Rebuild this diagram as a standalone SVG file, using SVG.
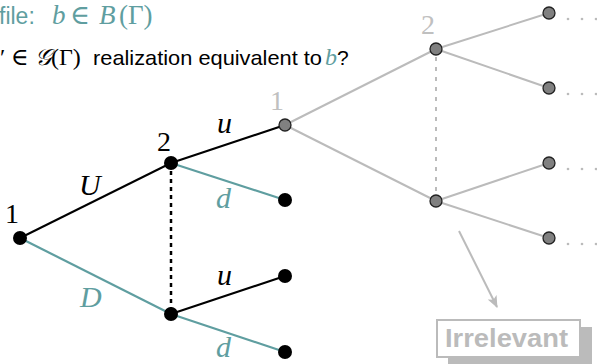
<svg xmlns="http://www.w3.org/2000/svg" width="597" height="364" viewBox="0 0 597 364">
<defs>
<marker id="ah" viewBox="0 0 12 10" refX="11" refY="5" markerWidth="12" markerHeight="10" markerUnits="userSpaceOnUse" orient="auto">
<path d="M0,0 L12,5 L0,10 L3,5 Z" fill="#bbbbbb"/>
</marker>
</defs>
<style>
.sans{font-family:"Liberation Sans","DejaVu Sans",sans-serif}
.ser{font-family:"Liberation Serif","DejaVu Serif",serif}
.it{font-family:"Liberation Serif","DejaVu Serif",serif;font-style:italic}
.teal{fill:#5f9ea0}
.blk{stroke:#000;stroke-width:2;fill:none}
.tl{stroke:#5f9ea0;stroke-width:2.2;fill:none}
.gl{stroke:#bbbbbb;stroke-width:2;fill:none}
.bn{fill:#000}
.gn{fill:#808080;stroke:#222;stroke-width:1.3}
.gd{fill:#bbbbbb}
.lab{font-family:"Liberation Serif","DejaVu Serif",serif;font-size:28px}
.ml{font-family:"Liberation Serif","DejaVu Serif",serif;font-style:italic;font-size:30px}
</style>
<g id="title">
<text x="-1" y="24" class="sans teal" font-size="23">file:</text>
<text x="52" y="24" class="it teal" font-size="27">b</text>
<text x="70" y="24" class="ser teal" font-size="27">∈</text>
<text x="99" y="24" class="it teal" font-size="27">B</text>
<text x="119" y="24" class="ser teal" font-size="27">(Γ)</text>
</g>
<g id="question">
<text x="0" y="65" class="ser" font-size="24">′</text>
<text x="11" y="65" class="ser" font-size="24">∈</text>
<text x="35" y="65" class="it" font-size="23">𝒢</text>
<text x="51" y="65" class="ser" font-size="24">(Γ)</text>
<text x="93" y="65" class="sans" font-size="21" textLength="229" lengthAdjust="spacingAndGlyphs">realization equivalent to</text>
<text x="325" y="65" class="it teal" font-size="24">b</text>
<text x="337" y="65" class="sans" font-size="21">?</text>
</g>
<g id="connectors">
<line class="gl" x1="285" y1="125" x2="436" y2="49"/>
<line class="gl" x1="285" y1="125" x2="436" y2="201"/>
<line class="gl" x1="436" y1="49" x2="549" y2="13"/>
<line class="gl" x1="436" y1="49" x2="549" y2="88"/>
<line class="gl" x1="436" y1="201" x2="549" y2="163"/>
<line class="gl" x1="436" y1="201" x2="549" y2="238"/>
<line class="gl" x1="436" y1="57" x2="436" y2="194" stroke-dasharray="4,6"/>
<line class="blk" x1="20" y1="238" x2="171" y2="163"/>
<line class="blk" x1="171" y1="163" x2="285" y2="125"/>
<line class="blk" x1="171" y1="314" x2="285" y2="276"/>
<line class="tl" x1="20" y1="238" x2="171" y2="314"/>
<line class="tl" x1="171" y1="163" x2="285" y2="200"/>
<line class="tl" x1="171" y1="314" x2="285" y2="352"/>
<line x1="171" y1="171" x2="171" y2="308" stroke="#000" stroke-width="2.5" stroke-dasharray="4,4"/>
<line class="gl" x1="459" y1="231" x2="497" y2="307" marker-end="url(#ah)"/>
</g>
<g id="dots">
<circle class="gd" cx="568" cy="19" r="1.3"/><circle class="gd" cx="582" cy="19" r="1.3"/><circle class="gd" cx="596" cy="19" r="1.3"/>
<circle class="gd" cx="568" cy="94" r="1.3"/><circle class="gd" cx="582" cy="94" r="1.3"/><circle class="gd" cx="596" cy="94" r="1.3"/>
<circle class="gd" cx="568" cy="169" r="1.3"/><circle class="gd" cx="582" cy="169" r="1.3"/><circle class="gd" cx="596" cy="169" r="1.3"/>
<circle class="gd" cx="568" cy="244" r="1.3"/><circle class="gd" cx="582" cy="244" r="1.3"/><circle class="gd" cx="596" cy="244" r="1.3"/>
</g>
<g id="n1"><circle class="bn" cx="20" cy="238" r="7"/><text x="5" y="223" class="lab">1</text></g>
<g id="n2a"><circle class="bn" cx="171" cy="163" r="7"/><text x="157" y="151" class="lab">2</text></g>
<g id="n2b"><circle class="bn" cx="171" cy="314" r="7"/></g>
<g id="leaf1"><circle class="bn" cx="285" cy="200" r="7"/></g>
<g id="leaf2"><circle class="bn" cx="285" cy="276" r="7"/></g>
<g id="leaf3"><circle class="bn" cx="285" cy="352" r="7"/></g>
<g id="labels">
<text x="79" y="195" class="ml">U</text>
<text x="217" y="133" class="ml">u</text>
<text x="216" y="208" class="ml teal">d</text>
<text x="80" y="307" class="ml teal">D</text>
<text x="217" y="285" class="ml">u</text>
<text x="216" y="357" class="ml teal">d</text>
</g>
<g id="g1"><circle class="gn" cx="285" cy="125" r="6"/><text x="270" y="110" class="lab" fill="#c0c0c0">1</text></g>
<g id="g2a"><circle class="gn" cx="436" cy="49" r="6"/><text x="421" y="34" class="lab" fill="#c0c0c0">2</text></g>
<g id="g2b"><circle class="gn" cx="436" cy="201" r="6"/></g>
<g id="gl1"><circle class="gn" cx="549" cy="13" r="6"/></g>
<g id="gl2"><circle class="gn" cx="549" cy="88" r="6"/></g>
<g id="gl3"><circle class="gn" cx="549" cy="163" r="6"/></g>
<g id="gl4"><circle class="gn" cx="549" cy="238" r="6"/></g>
<g id="irrelevant">
<rect x="448" y="327" width="144" height="37" fill="#bbbbbb"/>
<rect x="437" y="320" width="143" height="37" fill="#fff" stroke="#bbbbbb" stroke-width="2"/>
<text x="445" y="347" class="sans" font-size="25" font-weight="bold" fill="#bbbbbb" textLength="123" lengthAdjust="spacingAndGlyphs">Irrelevant</text>
</g>
</svg>
